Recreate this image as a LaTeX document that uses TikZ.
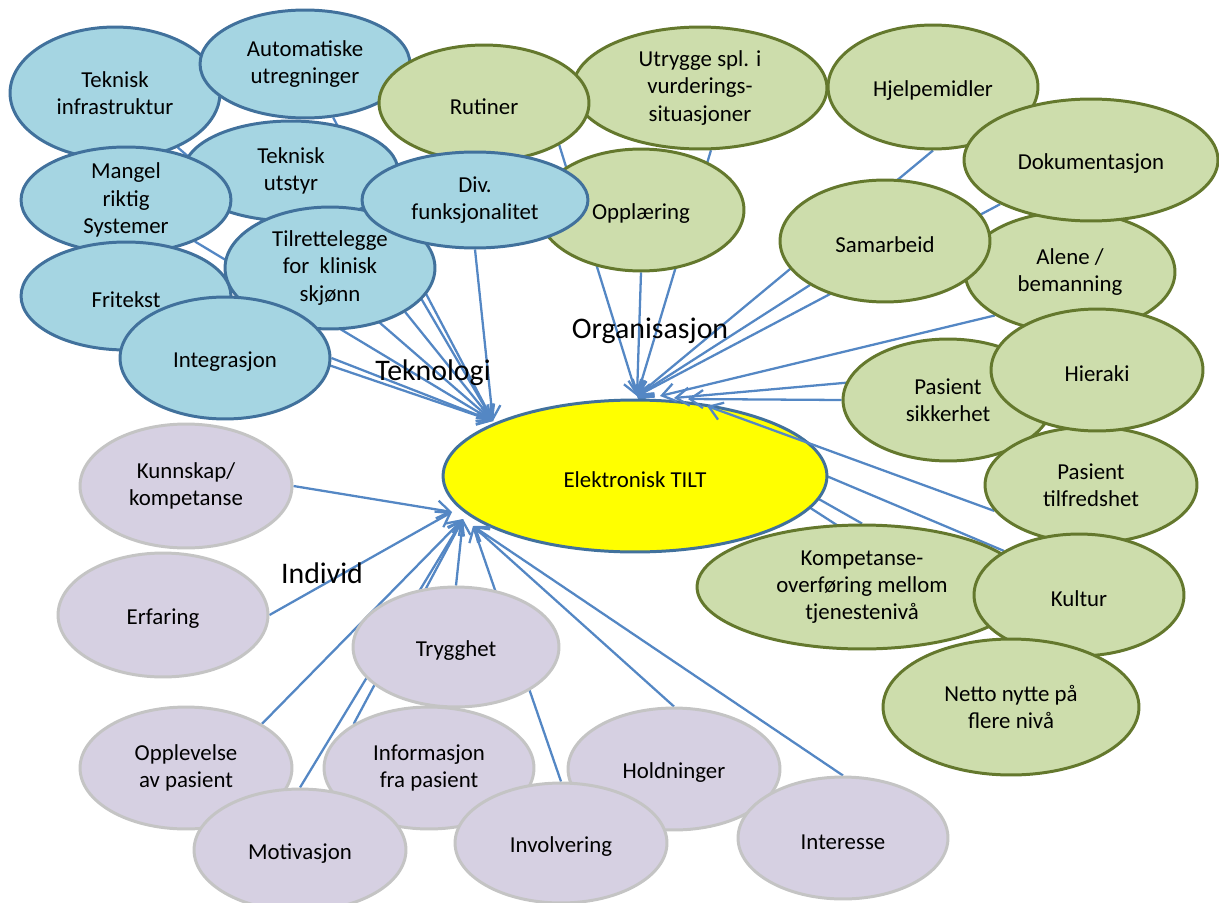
\documentclass[tikz,border=0pt]{standalone}
\usepackage{fontspec}
\setmainfont{Carlito}
\usetikzlibrary{arrows.meta,shapes.geometric}

\definecolor{tekfyll}{RGB}{165,213,226}
\definecolor{tekkant}{RGB}{65,113,156}
\definecolor{orgfyll}{RGB}{205,221,172}
\definecolor{orgkant}{RGB}{100,120,45}
\definecolor{indfyll}{RGB}{214,208,226}
\definecolor{indkant}{RGB}{196,196,196}
\definecolor{pilfarge}{RGB}{84,135,196}
\definecolor{gul}{RGB}{255,255,0}

\pgfdeclarelayer{bunn}
\pgfdeclarelayer{bak}
\pgfdeclarelayer{midt}
\pgfsetlayers{bunn,bak,midt,main}

\tikzset{
  x=0.02cm, y=-0.02cm, % one unit per pixel, y running down
  boble/.style={ellipse, line width=1.7pt, inner sep=0pt, align=center,
    font=\fontsize{13}{15.5}\selectfont,
    execute at begin node={\rule{0pt}{13.5pt}}}, % sets the text a little low, as Word does
  tek/.style={boble, draw=tekkant, fill=tekfyll},
  org/.style={boble, draw=orgkant, fill=orgfyll},
  ind/.style={boble, draw=indkant, fill=indfyll},
  radii/.style 2 args={minimum width=#1*0.04cm, minimum height=#2*0.04cm}, % half axes in pixels
  pil/.style={-{Straight Barb[length=2.6mm,width=3.6mm]}, draw=pilfarge, line width=1.3pt},
  tema/.style={font=\fontsize{17}{20}\selectfont},
}

\begin{document}
\begin{tikzpicture}
    \useasboundingbox (0,0) rectangle (1219,902);

    % the centre
    \begin{pgfonlayer}{bak}
    \node[boble, draw=tekkant, fill=gul, radii={192}{76}] (tilt) at (635,476) {Elektronisk TILT};
    \end{pgfonlayer}
    \coordinate (tek) at (493,421);
    \coordinate (org1) at (637,396);
    \coordinate (org2) at (660,396);
    \coordinate (org3) at (674,398);
    \coordinate (org4) at (688,399);
    \coordinate (org5) at (707,406);
    \coordinate (ind1) at (452,512);
    \coordinate (ind2) at (463,519);
    \coordinate (ind3) at (473,526);

    % Teknologi
    \node[tek, radii={105}{66}] (infra) at (115,93) {Teknisk\\infrastruktur};
    \node[tek, radii={105}{54}] (auto) at (305,64) {Automatiske\\utregninger};
    \node[tek, radii={107}{50}] (utstyr) at (291,171) {Teknisk\\utstyr};
    \node[tek, radii={105}{53}] (mangel) at (126,200) {Mangel\\riktig\\Systemer};
    \node[tek, radii={105}{54}] (fritekst) at (126,296) {Fritekst};
    \node[tek, radii={105}{61}] (tilrett) at (330,268) {Tilrettelegge\\for\ \ klinisk\\skjønn};
    \node[tek, radii={105}{61}] (integrasjon) at (225,358) {Integrasjon};

    % Organisasjon
    \node[org, radii={127}{61}] (utrygge) at (700,88) {Utrygge spl. i\\vurderings-\\situasjoner};
    \node[org, radii={105}{58}] (rutiner) at (484,103) {Rutiner};
    \node[org, radii={103}{61}] (opplaering) at (641,210) {Opplæring};
    \node[tek, radii={113}{48}] (div) at (475,200) {Div.\\funksjonalitet};
    \node[org, radii={105}{62}] (hjelp) at (933,87) {Hjelpemidler};
    \node[org, radii={105}{60}] (alene) at (1070,272) {Alene /\\bemanning};
    \node[org, radii={127}{61}] (dok) at (1091,160) {Dokumentasjon};
    \node[org, radii={105}{61}] (samarbeid) at (885,241) {Samarbeid};
    \node[org, radii={105}{61}] (sikkerhet) at (948,400) {Pasient\\sikkerhet};
    \node[org, radii={106}{58}] (tilfred) at (1091,485) {Pasient\\tilfredshet};
    \node[org, radii={106}{61}] (hieraki) at (1097,370) {Hieraki};
    \node[org, radii={165}{62}] (komp) at (862,587) {Kompetanse-\\overføring mellom\\tjenestenivå};
    \node[org, radii={105}{61}] (kultur) at (1079,595) {Kultur};
    \node[org, radii={128}{68}] (netto) at (1011,707) {Netto nytte på\\flere nivå};

    % Individ
    \node[ind, radii={106}{62}] (kunn) at (186,486) {Kunnskap/\\kompetanse};
    \node[ind, radii={105}{62}] (erfaring) at (163,615) {Erfaring};
    \node[ind, radii={103}{60}] (trygg) at (456,647) {Trygghet};
    \node[ind, radii={105}{61}] (info) at (429,768) {Informasjon\\fra pasient};
    \node[ind, radii={106}{61}] (opplev) at (186,768) {Opplevelse\\av pasient};
    \node[ind, radii={106}{61}] (motiv) at (300,850) {Motivasjon};
    \node[ind, radii={106}{61}] (holdn) at (674,769) {Holdninger};
    \node[ind, radii={106}{60}] (involv) at (561,843) {Involvering};
    \node[ind, radii={105}{61}] (interesse) at (843,838) {Interesse};

    \node[tema] (teknologi) at (433,373) {Teknologi};
    \node[tema] (organisasjon) at (650,331) {Organisasjon};
    \node[tema] (individ) at (322,573) {Individ};

    % arrows under the outer bubbles
    \begin{pgfonlayer}{midt}
    \draw[pil] (infra) -- (tek);
    \draw[pil] (auto) -- (tek);
    \draw[pil] (utstyr.south east) -- (tek);
    \draw[pil] (mangel) -- (tek);
    \draw[pil] (fritekst) -- (tek);
    \draw[pil] (tilrett.south east) -- (tek);
    \draw[pil] (integrasjon.east) -- (tek);
    \draw[pil] (div.south) -- (tek);

    \draw[pil] (rutiner.south east) -- (org1);
    \draw[pil] (utrygge.280) -- (org1);
    \draw[pil] (opplaering.south) -- (org1);
    \draw[pil] (hjelp.south) -- (org1);
    \draw[pil] (dok.south west) -- (org1);
    \draw[pil] (samarbeid.south west) -- (org1);
    \draw[pil] (alene.south west) -- (org2);
    \draw[pil] (hieraki.west) -- (org3);
    \draw[pil] (sikkerhet.west) -- (org4);
    \draw[pil] (tilfred.195) -- (org5);

    \draw[pil] (kunn.east) -- (ind1);
    \draw[pil] (erfaring.east) -- (ind1);
    \draw[pil] (opplev.north east) -- (ind2);
    \draw[pil] (motiv.north) -- (ind2);
    \draw[pil] (info.north west) -- (ind2);
    \draw[pil] (trygg.north) -- (ind2);
    \draw[pil] (involv.north) -- (ind3);
    \draw[pil] (holdn.north) -- (ind3);
    \draw[pil] (interesse.north) -- (ind3);
    \end{pgfonlayer}

    % these run in under the yellow one
    \begin{pgfonlayer}{bunn}
    \draw[pil] (komp.north) -- (org1);
    \draw[pil] (kultur.north west) -- (org1);
    \draw[pil] (netto.north) -- (org1);
    \end{pgfonlayer}
\end{tikzpicture}
\end{document}
